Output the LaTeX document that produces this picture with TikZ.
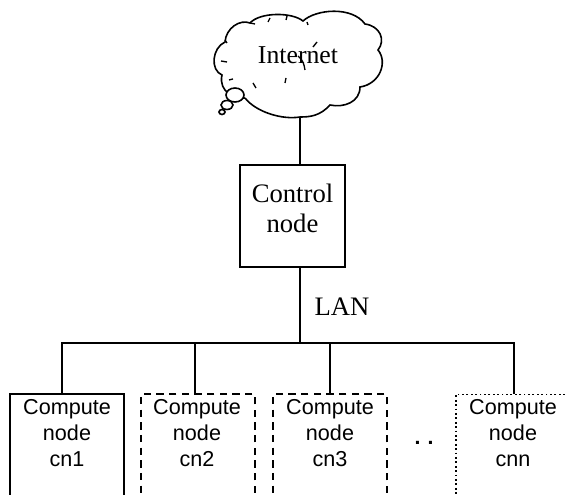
\documentclass[tikz,border=0pt]{standalone}
\usepackage{fontspec}
\setmainfont{Liberation Serif}
\newfontfamily\armfont{Liberation Sans}
\tikzset{
  bus/.style={line width=1.3pt},
  cloudline/.style={line width=1.2pt},
  tick/.style={line width=1pt},
  cbox/.style={draw, line width=1.3pt, minimum width=85.5pt, minimum height=112pt},
  dashbox/.style={cbox, dash pattern=on 5.5pt off 4pt},
  ctext/.style={font=\armfont\fontsize{16.2}{19.5}\selectfont, align=center, inner sep=0pt, anchor=north},
  stext/.style={font=\fontsize{20}{22}\selectfont, align=center, inner sep=0pt}
}
\begin{document}
\begin{tikzpicture}[x=0.75pt,y=-0.75pt]
\useasboundingbox (0,0) rectangle (565,495);
\clip (0,0) rectangle (565,495);

% cloud
\draw[cloudline] (245,98) .. controls (236,100) and (218,92) .. (222,75)
  .. controls (210,70) and (212,48) .. (225,42)
  .. controls (226,28) and (240,19) .. (250,23)
  .. controls (260,12) and (292,12) .. (303,21)
  .. controls (316,9) and (352,6) .. (365,24)
  .. controls (380,26) and (386,40) .. (378,50)
  .. controls (388,62) and (380,84) .. (360,87)
  .. controls (360,102) and (344,108) .. (330,105)
  .. controls (320,116) and (310,117) .. (300,117)
  .. controls (282,120) and (256,112) .. (245,98);
\draw[cloudline, fill=white] (235,95) ellipse (9 and 7);
\draw[cloudline] (227,105) ellipse (6 and 4.5);
\draw[cloudline] (222,112) ellipse (3 and 2.5);
\foreach \a/\b/\c/\d in {225/40/227/43, 221/61/227/62, 229/80/233/79, 253/83/256/88, 286/78/285/83, 250/23/255/24, 270/18/268/22, 287/16/286/20, 307/22/308/25, 317/42/313/47}
  \draw[tick] (\a,\b) -- (\c,\d);
\node[stext, font=\fontsize{19.3}{22}\selectfont] (internet) at (298,55) {Internet};
\draw[tick] (298,56) .. controls (303,60) and (304,64) .. (305,70);
\coordinate (cloudfoot) at (300,117);

% control node
\node[draw, line width=1.3pt, minimum width=78.75pt, minimum height=76.5pt] (control) at (292.5,216) {};
\node[stext] (controltext) at (292.5,208.5) {Control\\node};
\node[stext] (lan) at (342,307) {LAN};

% compute nodes
\node[cbox] (cn1) at (67,469) {};
\node[dashbox] (cn2) at (198,469) {};
\node[dashbox] (cn3) at (330,469) {};
\node[cbox, dotted, line width=1pt] (cnn) at (513,469) {};
\node[ctext] (cn1text) at (67,399) {Compute\\node\\cn1};
\node[ctext] (cn2text) at (197,399) {Compute\\node\\cn2};
\node[ctext] (cn3text) at (330,399) {Compute\\node\\cn3};
\node[ctext] (cnntext) at (513,399) {Compute\\node\\cnn};
\node[font=\armfont\bfseries\fontsize{16}{19}\selectfont] (gap) at (424,443) {.\,\,.};

% links
\coordinate (hub) at (300,343);
\coordinate (drop1) at (62,343);
\coordinate (drop2) at (195,343);
\coordinate (drop3) at (330,343);
\coordinate (dropn) at (514,343);
\draw[bus] (cloudfoot) -- (cloudfoot |- control.north);
\draw[bus] (hub |- control.south) -- (hub);
\draw[bus] (drop1 |- cn1.north) -- (drop1) -- (dropn) -- (dropn |- cnn.north);
\draw[bus] (drop2) -- (drop2 |- cn2.north);
\draw[bus] (drop3) -- (drop3 |- cn3.north);
\end{tikzpicture}
\end{document}
